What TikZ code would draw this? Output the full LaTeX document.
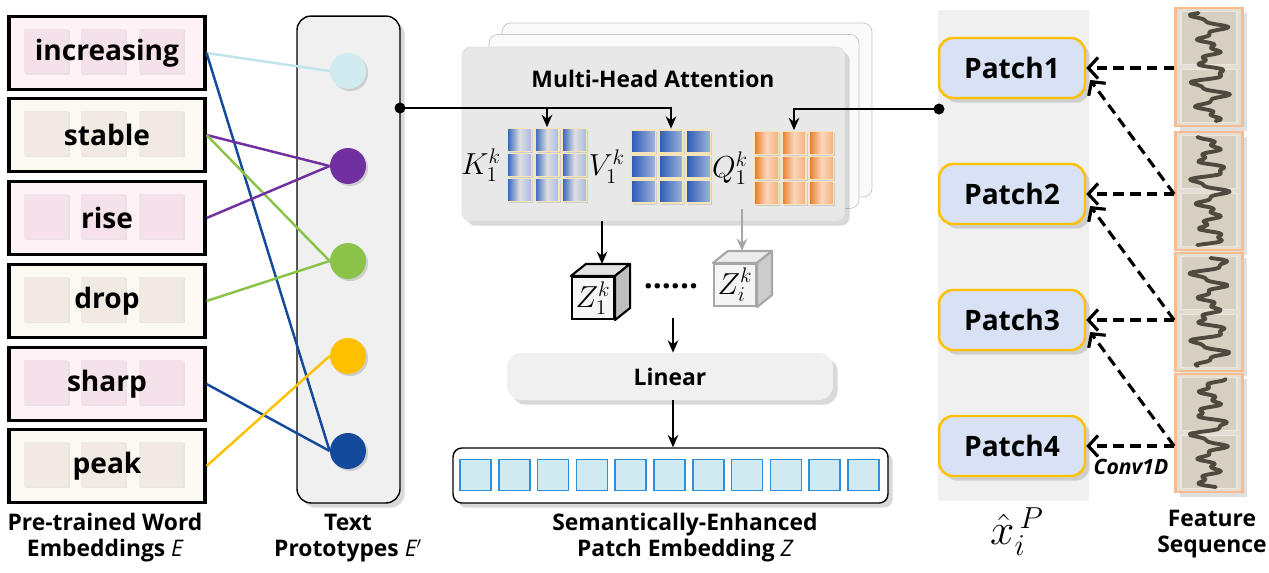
\documentclass[tikz,border=0pt]{standalone}
\usepackage{fontspec}
\setmainfont{Open Sans}
\usepackage{amsmath}
\usetikzlibrary{arrows.meta, positioning, calc, shadows}

\definecolor{pinkbox}{HTML}{FEF2F6}
\definecolor{pinkcell}{HTML}{F5E1EA}
\definecolor{creambox}{HTML}{FCF9F3}
\definecolor{creamcell}{HTML}{F0EAE2}
\definecolor{panelgray}{HTML}{F0F0F0}
\definecolor{lcyan}{HTML}{D0ECF1}
\definecolor{lcyanline}{HTML}{BFE4EC}
\definecolor{ppurple}{HTML}{7030A0}
\definecolor{pgreen}{HTML}{8BC34A}
\definecolor{pyellow}{HTML}{FFC000}
\definecolor{pnavy}{HTML}{144A9C}
\definecolor{patchfill}{HTML}{D9E1F4}
\definecolor{embfill}{HTML}{CFEAF0}
\definecolor{embdraw}{HTML}{2F8FD8}
\definecolor{seqorange}{HTML}{F8BC8E}
\definecolor{seqfill}{HTML}{D6D0C2}
\definecolor{seqedge}{HTML}{ECE6DA}
\definecolor{wavec}{HTML}{4E4A40}
\definecolor{cellcream}{HTML}{F6E3B8}
\definecolor{kblue}{HTML}{3565C0}
\definecolor{vblue}{HTML}{2D5BB5}
\definecolor{qorange}{HTML}{EE7A24}

\tikzset{
  wordbox/.style={
    rectangle, draw=black, line width=1.8pt,
    minimum width=3.92cm, minimum height=1.46cm, inner sep=0pt
  },
  wordcell/.style={
    rectangle, minimum size=0.9cm, inner sep=0pt,
    drop shadow={shadow xshift=1pt, shadow yshift=-1pt, opacity=0.15}
  },
  wordtxt/.style={font=\fontsize{16}{18}\selectfont\bfseries},
  panel/.style={
    rectangle, rounded corners=8pt, draw=black, line width=0.8pt,
    fill=panelgray, minimum width=2.06cm, minimum height=9.74cm,
    drop shadow={opacity=0.3}
  },
  proto/.style={
    circle, minimum size=0.72cm, inner sep=0pt, fill=#1,
    drop shadow={shadow xshift=1.2pt, shadow yshift=-1.2pt, opacity=0.3}
  },
  link/.style={line width=1.4pt, draw=#1},
  dot/.style={circle, fill=black, minimum size=0.22cm, inner sep=0pt},
  arrow/.style={-{Stealth[length=7pt,width=6pt]}, line width=1.1pt, draw=black},
  garrow/.style={-{Stealth[length=7pt,width=6pt]}, line width=1.1pt, draw=gray!70},
  darrow/.style={
    -{Straight Barb[length=5.5pt,width=12pt]},
    dash pattern=on 6pt off 3.5pt, line width=1.8pt
  },
  head/.style={
    rectangle, rounded corners=5pt, draw=gray!45, fill=gray!4,
    minimum width=7.4cm, minimum height=3.48cm, inner sep=0pt
  },
  fronthead/.style={
    head, draw=gray!25, fill=gray!18, minimum width=7.66cm,
    drop shadow={opacity=0.3}
  },
  mcell/.style={
    rectangle, draw=cellcream, line width=1pt,
    minimum width=0.48cm, minimum height=0.46cm, inner sep=0pt
  },
  kcell/.style={mcell, left color=kblue, right color=kblue!45, middle color=gray!25},
  vcell/.style={mcell, left color=vblue, right color=vblue!45},
  qcell/.style={mcell, left color=qorange, right color=qorange!60, middle color=qorange!30},
  mathlbl/.style={font=\fontsize{17}{17}\selectfont, inner sep=1pt},
  cube/.style={
    rectangle, draw=black, line width=1.2pt, fill=gray!8,
    minimum size=0.84cm, inner sep=0pt, font=\fontsize{17}{17}\selectfont
  },
  graycube/.style={cube, draw=gray!70},
  linbox/.style={
    rectangle, rounded corners=8pt, fill=gray!12,
    minimum width=6.52cm, minimum height=0.94cm,
    font=\fontsize{13}{15}\selectfont\bfseries,
    drop shadow={opacity=0.3}
  },
  embbox/.style={
    rectangle, rounded corners=5pt, draw=black, line width=0.8pt, fill=white,
    minimum width=8.7cm, minimum height=1.1cm, drop shadow={opacity=0.3}
  },
  embcell/.style={
    rectangle, draw=embdraw, line width=1pt, fill=embfill,
    minimum size=0.62cm, inner sep=0pt
  },
  patchbox/.style={
    rectangle, rounded corners=8pt, draw=pyellow, line width=1.4pt,
    fill=patchfill, minimum width=2.92cm, minimum height=1.2cm,
    font=\fontsize{16}{18}\selectfont\bfseries,
    drop shadow={opacity=0.3}
  },
  seqgroup/.style={
    rectangle, draw=seqorange, line width=1.6pt, fill=seqfill!70,
    minimum width=1.34cm, minimum height=2.36cm, inner sep=0pt,
    drop shadow={opacity=0.25}
  },
  seqcell/.style={
    rectangle, draw=seqedge, line width=1pt, fill=seqfill,
    minimum width=1.12cm, minimum height=1.06cm, inner sep=0pt
  },
  wave/.style={draw=wavec, line width=2.2pt, line cap=round, line join=round},
  lbl/.style={align=center, font=\fontsize{13}{14.8}\selectfont\bfseries}
}

\begin{document}
\begin{tikzpicture}[x=0.02cm, y=-0.02cm]
  \useasboundingbox (0,0) rectangle (1269,572);

  % word embeddings
  \foreach \name/\yy/\word/\boxc/\cellc in {
      w1/53/increasing/pinkbox/pinkcell, w2/135/stable/creambox/creamcell,
      w3/218/rise/pinkbox/pinkcell, w4/301/drop/creambox/creamcell,
      w5/384/sharp/pinkbox/pinkcell, w6/466/peak/creambox/creamcell} {
    \node[wordbox, fill=\boxc] (\name) at (107,\yy) {};
    \foreach \dx in {-61,-4,54}
      \node[wordcell, fill=\cellc] at ($(\name.center)+(\dx,-2)$) {};
    \node[wordtxt] at (\name.center) {\word};
  }

  % text prototypes
  \node[panel] (proto) at (348.5,259.5) {};
  \node[proto=lcyan] (p1) at (348,71) {};
  \node[proto=ppurple] (p2) at (348,166) {};
  \node[proto=pgreen] (p3) at (348,261) {};
  \node[proto=pyellow] (p4) at (348,356) {};
  \node[proto=pnavy] (p5) at (348,451) {};

  \draw[link=lcyanline] (w1.east) -- (p1.west);
  \draw[link=pnavy] (w1.east) -- (p5.west);
  \draw[link=ppurple] (w2.east) -- (p2.west);
  \draw[link=pgreen] (w2.east) -- (p3.west);
  \draw[link=ppurple] (w3.east) -- (p2.west);
  \draw[link=pgreen] (w4.east) -- (p3.west);
  \draw[link=pnavy] (w5.east) -- (p5.west);
  \draw[link=pyellow] (w6.east) -- (p4.west);

  % multi-head attention
  \node[head] (mhaC) at (687,110) {};
  \node[head] (mhaB) at (674,121.5) {};
  \node[fronthead] (mhaA) at (653.5,134) {};
  \node[font=\fontsize{13}{15}\selectfont\bfseries] (mhat) at (653,79) {Multi-Head Attention};

  \foreach \m/\cx/\cy/\cs in {K/547/165/kcell, V/671/166.5/vcell, Q/794/168/qcell} {
    \node[minimum width=1.6cm, minimum height=1.5cm, inner sep=0pt] (\m) at (\cx,\cy) {};
    \foreach \i in {-1,0,1}
      \foreach \j in {-1,0,1}
        \node[\cs, drop shadow={shadow xshift=1pt, shadow yshift=-1pt, opacity=0.25}]
          at ($(\m.center)+(\i*27.5,\j*25)$) {};
  }
  \node[mathlbl, left=2pt of K] (Kl) {$K_1^k$};
  \node[mathlbl, left=2pt of V] (Vl) {$V_1^k$};
  \node[mathlbl, left=2pt of Q] (Ql) {$Q_1^k$};

  % inputs to K, V, Q
  \node[dot] (d1) at (400,108) {};
  \node[minimum width=3.02cm, minimum height=9.82cm, fill=panelgray, inner sep=0pt] (band) at (1013.5,255.5) {};
  \node[dot] (d2) at (939,109) {};
  \draw[arrow] (d1.center) -| (V.north);
  \draw[arrow] (d1 -| K.north) -- (K.north);
  \draw[arrow] (d2.center) -| (Q.north);

  % heads output
  \node[cube] (z1) at (593,298) {$Z_1^k$};
  \fill[gray!22, draw=black, line width=1.2pt, line join=round]
    (z1.north west) -- ++(15,-12) -- ($(z1.north east)+(15,-12)$) -- (z1.north east) -- cycle;
  \fill[gray!50, draw=black, line width=1.2pt, line join=round]
    (z1.north east) -- ++(15,-12) -- ($(z1.south east)+(15,-12)$) -- (z1.south east) -- cycle;
  \node[graycube] (zi) at (735,285) {$Z_i^k$};
  \fill[gray!15, draw=gray!70, line width=1.2pt, line join=round]
    (zi.north west) -- ++(15,-12) -- ($(zi.north east)+(15,-12)$) -- (zi.north east) -- cycle;
  \fill[gray!40, draw=gray!70, line width=1.2pt, line join=round]
    (zi.north east) -- ++(15,-12) -- ($(zi.south east)+(15,-12)$) -- (zi.south east) -- cycle;
  \node[font=\fontsize{18}{18}\selectfont\bfseries] (dots) at (671,286) {......};
  \coordinate (z1top) at ($(z1.north)+(9,-12)$);
  \coordinate (zitop) at ($(zi.north)+(7,-12)$);
  \draw[arrow] (mhaA.south -| z1top) -- (z1top);
  \draw[garrow] (mhaB.south -| zitop) -- (zitop);

  % linear and patch embedding
  \node[linbox] (lin) at (670,376.5) {Linear};
  \coordinate (zsum) at (673,318);
  \draw[arrow] (zsum) -- (zsum |- lin.north);
  \node[embbox] (emb) at (670.5,475.5) {};
  \draw[arrow] (lin.south -| zsum) -- (emb.north -| zsum);
  \foreach \k in {0,...,10}
    \node[embcell] (e\k) at ({475.5+\k*38.8},475) {};

  % patches
  \node[patchbox] (P1) at (1012,68) {Patch1};
  \node[patchbox] (P2) at (1012,194) {Patch2};
  \node[patchbox] (P3) at (1012,320) {Patch3};
  \node[patchbox] (P4) at (1012,446) {Patch4};

  % feature sequence
  \foreach \n/\yy/\ph in {g1/67/0, g2/191/70, g3/312/150, g4/433/230} {
    \node[seqgroup] (\n) at (1209,\yy) {};
    \node[seqcell] at ($(\n.center)+(0,-29)$) {};
    \node[seqcell] at ($(\n.center)+(0,29)$) {};
    \draw[wave] plot[smooth, samples=70, domain=-54:54, variable=\t]
      ({1210 + 17*sin(16*\t+\ph)*(0.7+0.3*sin(5*\t+2*\ph)) + 5*sin(43*\t+\ph)},
       {\t+\yy});
  }

  \draw[darrow] (P1.east -| g1.west) -- (P1.east);
  \draw[darrow] (P2.east -| g2.west) -- (P2.east);
  \draw[darrow] (P3.east -| g3.west) -- (P3.east);
  \draw[darrow] (P4.east -| g4.west) -- (P4.east);
  \draw[darrow] (P2.east -| g2.west) -- ($(P1.east)+(4,12)$);
  \draw[darrow] (P3.east -| g3.west) -- ($(P2.east)+(4,12)$);
  \draw[darrow] (P4.east -| g4.west) -- ($(P3.east)+(4,12)$);
  \node[font=\fontsize{12}{14}\selectfont\bfseries\itshape] (conv) at (1131,467) {Conv1D};

  % captions
  \node[lbl] (lblW) at (105,538) {Pre-trained Word\\Embeddings {\mdseries\itshape E}};
  \node[lbl] (lblT) at (348,538) {Text\\Prototypes {\mdseries\itshape E}$'$};
  \node[lbl] (lblZ) at (685,538) {Semantically-Enhanced\\Patch Embedding {\mdseries\itshape Z}};
  \node[font=\fontsize{24}{24}\selectfont] (lblX) at (1017,532) {$\hat{x}_{i}^{\,P}$};
  \node[lbl] (lblF) at (1212,534) {Feature\\Sequence};
\end{tikzpicture}
\end{document}
